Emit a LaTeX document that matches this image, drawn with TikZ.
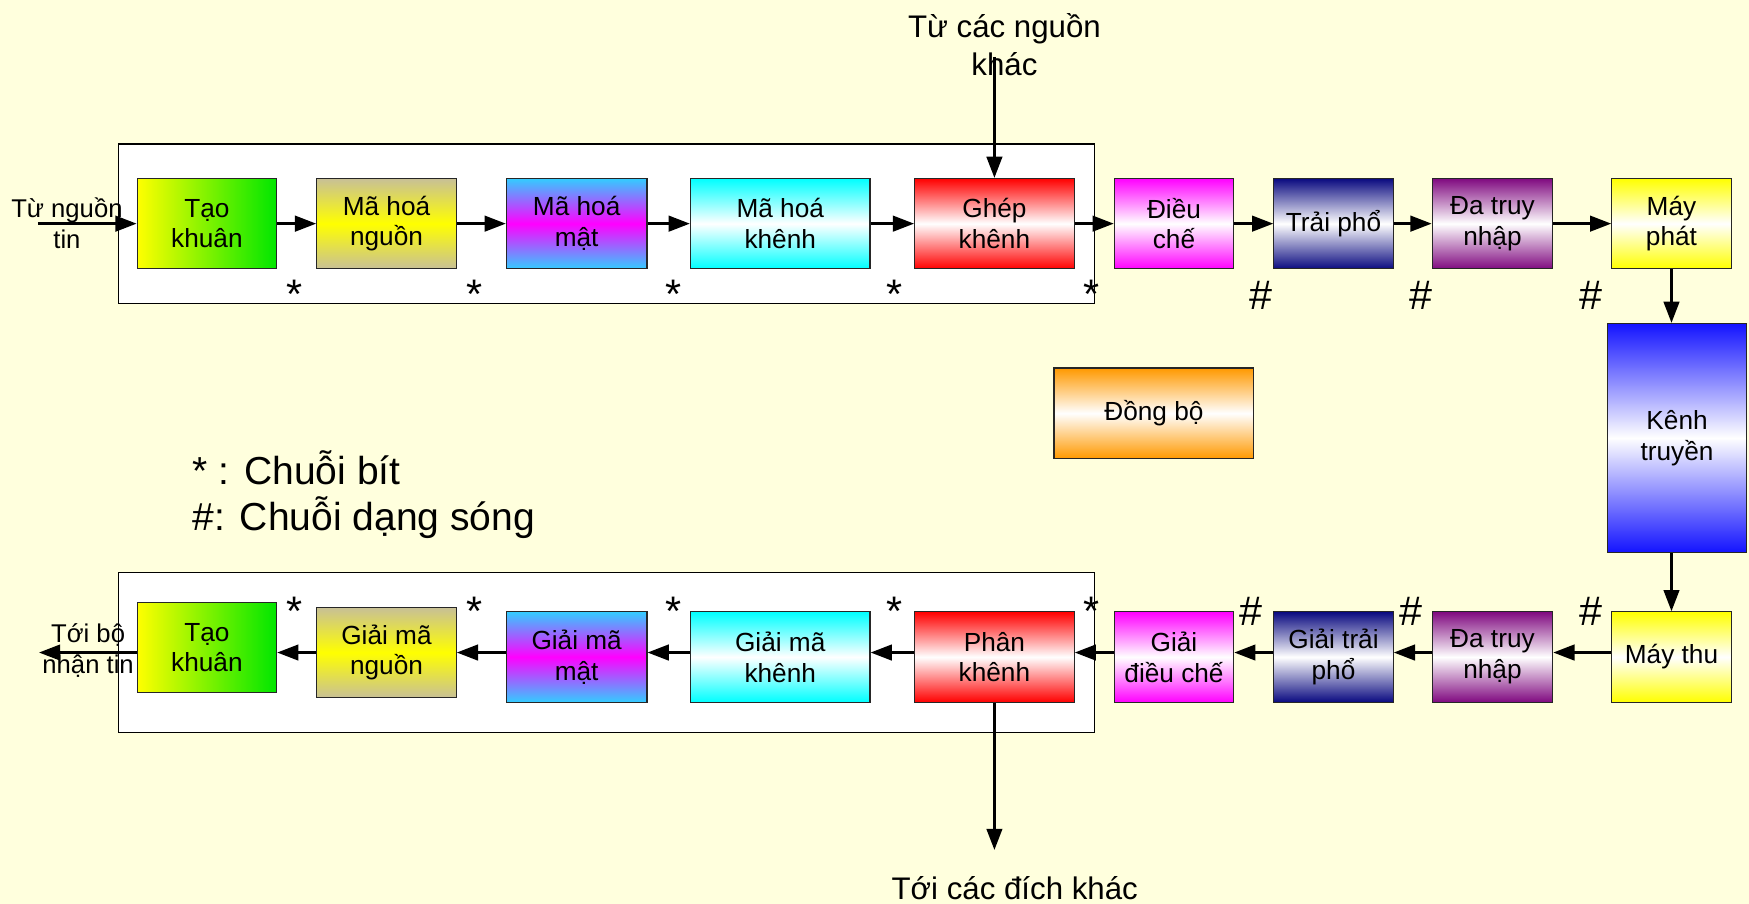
\documentclass[tikz,border=0pt]{standalone}
\usepackage{fontspec}
\setmainfont{Liberation Sans}
\usetikzlibrary{arrows.meta}
\definecolor{bg}{RGB}{255,255,221}
\definecolor{khaki}{RGB}{200,192,150}
\definecolor{skyb}{RGB}{51,204,255}
\definecolor{navyb}{RGB}{10,10,128}
\definecolor{purp}{RGB}{128,10,128}
\definecolor{orng}{RGB}{255,153,0}
\definecolor{grn}{RGB}{0,230,0}
\definecolor{blu}{RGB}{20,20,255}
\begin{document}
\begin{tikzpicture}[x=1pt,y=-1pt,
  blk/.style={draw=black!85, line width=1.1pt, inner sep=0pt, align=center,
    minimum height=81pt, font=\fontsize{23.5}{27.6}\selectfont},
  band/.style={top color=#1, bottom color=#1, middle color=white},
  frame/.style={draw=black, line width=1.2pt, fill=white, inner sep=0pt,
    minimum width=875pt, minimum height=143pt},
  arr/.style={line width=2.2pt, -{Triangle[length=19pt,width=14pt]}},
  lbl/.style={align=center, inner sep=0pt, font=\fontsize{23}{27.6}\selectfont},
  biglbl/.style={align=center, inner sep=0pt, font=\fontsize{28}{33.8}\selectfont},
  sigmark/.style={inner sep=0pt, anchor=base, font=\fontsize{37}{40}\selectfont},
  legend/.style={inner sep=0pt, anchor=base west, font=\fontsize{35}{40}\selectfont}]
\useasboundingbox (0,0) rectangle (1568,810);
\fill[bg] (0,0) rectangle (1568,810);

% frames
\node[frame] (frame1) at (543.5,200.5) {};
\node[frame] (frame2) at (543.5,585) {};

% top row
\node[blk, minimum width=125pt, left color=yellow, right color=grn] (tao1) at (185.5,200.5) {Tạo\\khuân};
\node[blk, minimum width=125pt, top color=khaki, bottom color=khaki, middle color=yellow] (mhn) at (346.5,200.5) {Mã hoá\\nguồn};
\node[blk, minimum width=126pt, top color=skyb, bottom color=skyb, middle color=magenta] (mhm) at (517,200.5) {Mã hoá\\mật};
\node[blk, minimum width=161pt, band=cyan] (mhk) at (699.5,200.5) {Mã hoá\\khênh};
\node[blk, minimum width=143pt, band=red] (ghep) at (891.5,200.5) {Ghép\\khênh};
\node[blk, minimum width=107pt, band=magenta] (dc) at (1052.5,200.5) {Điều\\chế};
\node[blk, minimum width=107pt, band=navyb] (tp) at (1195.5,200.5) {Trải phổ};
\node[blk, minimum width=108pt, band=purp] (dtn) at (1338,200.5) {Đa truy\\nhập};
\node[blk, minimum width=107pt, band=yellow] (mp) at (1498.5,200.5) {Máy\\phát};

% channel and sync
\node[blk, minimum width=125pt, minimum height=205pt, band=blu] (kenh) at (1503.5,392.5) {Kênh\\truyền};
\node[blk, minimum width=179pt, band=orng] (dongbo) at (1034.5,370.5) {Đồng bộ};

% bottom row
\node[blk, minimum width=125pt, left color=yellow, right color=grn] (tao2) at (185.5,580.5) {Tạo\\khuân};
\node[blk, minimum width=125pt, top color=khaki, bottom color=khaki, middle color=yellow] (gmn) at (346.5,585) {Giải mã\\nguồn};
\node[blk, minimum width=126pt, top color=skyb, bottom color=skyb, middle color=magenta] (gmm) at (517,589) {Giải mã\\mật};
\node[blk, minimum width=161pt, band=cyan] (gmk) at (699.5,589) {Giải mã\\khênh};
\node[blk, minimum width=143pt, band=red] (phan) at (891.5,589) {Phân\\khênh};
\node[blk, minimum width=107pt, band=magenta] (gdc) at (1052.5,589) {Giải\\điều chế};
\node[blk, minimum width=107pt, band=navyb] (gtp) at (1195.5,589) {Giải trải\\phổ};
\node[blk, minimum width=108pt, band=purp] (dtn2) at (1338,589) {Đa truy\\nhập};
\node[blk, minimum width=107pt, band=yellow] (mt) at (1498.5,589) {Máy thu};

% outside labels
\node[lbl] (src) at (60,200) {Từ nguồn\\tin};
\node[lbl] (dst) at (79,583) {Tới bộ\\nhận tin};
\node[biglbl] (other) at (900.5,40) {Từ các nguồn\\khác};
\node[biglbl, anchor=base] (otherdst) at (909.7,806) {Tới các đích khác};

% legend
\node[legend] (leg1) at (172.7,434.8) {* : Chuỗi bít};
\node[legend] (leg2) at (172.7,475.2) {\#: Chuỗi dạng sóng};

% marks
\foreach \x/\n in {264.2/1,425.4/2,603.6/3,801.9/4,978.6/5}{
  \node[sigmark] (st\n) at (\x,276.5) {*};
  \node[sigmark] (sb\n) at (\x,560.5) {*};
}
\node[sigmark] (ht1) at (1130.9,277.6) {\#};
\node[sigmark] (ht2) at (1273.8,277.6) {\#};
\node[sigmark] (ht3) at (1426,277.6) {\#};
\node[sigmark] (hb1) at (1121.6,560.6) {\#};
\node[sigmark] (hb2) at (1265.3,560.6) {\#};
\node[sigmark] (hb3) at (1426,560.6) {\#};

% free ends
\coordinate (inS) at (34,200.5);
\coordinate (topS) at (891.5,51);
\coordinate (outE) at (35,585);
\coordinate (botE) at (891.5,762);
\coordinate (ybot) at (0,585);

% top arrows
\draw[arr] (inS) -- (tao1.west);
\draw[arr] (tao1.east) -- (mhn.west);
\draw[arr] (mhn.east) -- (mhm.west);
\draw[arr] (mhm.east) -- (mhk.west);
\draw[arr] (mhk.east) -- (ghep.west);
\draw[arr] (ghep.east) -- (dc.west);
\draw[arr] (dc.east) -- (tp.west);
\draw[arr] (tp.east) -- (dtn.west);
\draw[arr] (dtn.east) -- (mp.west);
\draw[arr] (topS) -- (ghep.north);
\draw[arr] (mp.south) -- (mp.south |- kenh.north);
\draw[arr] (mt.north |- kenh.south) -- (mt.north);

% bottom arrows
\draw[arr] (mt.west |- ybot) -- (dtn2.east |- ybot);
\draw[arr] (dtn2.west |- ybot) -- (gtp.east |- ybot);
\draw[arr] (gtp.west |- ybot) -- (gdc.east |- ybot);
\draw[arr] (gdc.west |- ybot) -- (phan.east |- ybot);
\draw[arr] (phan.west |- ybot) -- (gmk.east |- ybot);
\draw[arr] (gmk.west |- ybot) -- (gmm.east |- ybot);
\draw[arr] (gmm.west |- ybot) -- (gmn.east |- ybot);
\draw[arr] (gmn.west |- ybot) -- (tao2.east |- ybot);
\draw[arr] (tao2.west |- ybot) -- (outE);
\draw[arr] (phan.south) -- (botE);
\end{tikzpicture}
\end{document}
